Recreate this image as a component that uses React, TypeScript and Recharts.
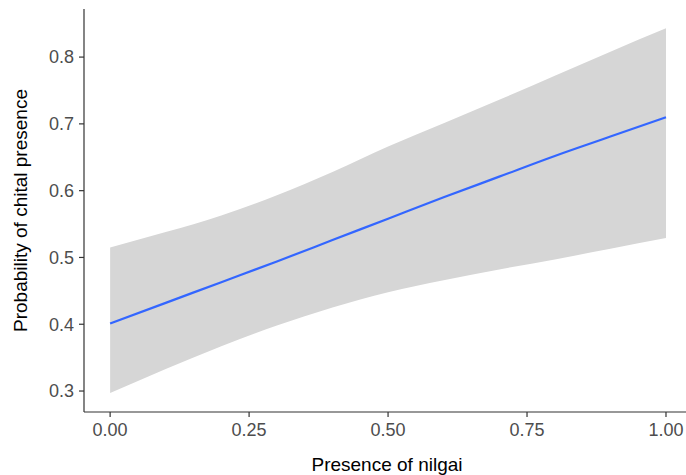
import React from "react";
import { ComposedChart, Area, Line, XAxis, YAxis } from "recharts";

const nilgai = [0, 0.1, 0.2, 0.3, 0.4, 0.5, 0.6, 0.7, 0.8, 0.9, 1.0];
const fitted = [0.401, 0.432, 0.463, 0.494, 0.526, 0.558, 0.59, 0.621, 0.652, 0.681, 0.71];
const lower = [0.297, 0.333, 0.367, 0.398, 0.425, 0.448, 0.466, 0.482, 0.497, 0.513, 0.529];
const upper = [0.515, 0.538, 0.563, 0.593, 0.628, 0.666, 0.701, 0.736, 0.772, 0.808, 0.843];

const xTicks = [0, 0.25, 0.5, 0.75, 1];
const yTicks = [0.3, 0.4, 0.5, 0.6, 0.7, 0.8];

const xTitle = "Presence of nilgai";
const yTitle = "Probability of chital presence";

const table = nilgai.map((x, i) => ({
  x,
  fit: fitted[i],
  band: [lower[i], upper[i]],
}));

const FONT = "'Liberation Sans', Arial, sans-serif";

export default function App() {
  return (
    <div style={{ position: "absolute", left: 0, top: 0, background: "#fff" }}>
      <ComposedChart
        width={686}
        height={475}
        data={table}
        margin={{ top: 9, right: 0, bottom: 0, left: 0 }}
      >
        <XAxis
          dataKey="x"
          type="number"
          domain={[-0.047, 1.036]}
          allowDataOverflow
          ticks={xTicks}
          tickFormatter={(v: number) => v.toFixed(2)}
          height={63}
          tickSize={5}
          tickMargin={6}
          stroke="#333333"
          axisLine={{ stroke: "#333333", strokeWidth: 1.2 }}
          tickLine={{ stroke: "#333333", strokeWidth: 1.2 }}
          tick={{ fill: "#4D4D4D", fontSize: 18, fontFamily: FONT }}
          label={{
            content: (p: any) => {
              const vb = p.viewBox || { x: 84, width: 602 };
              return (
                <text
                  x={vb.x + vb.width / 2 + 2}
                  y={471}
                  textAnchor="middle"
                  fontSize={19}
                  fontFamily={FONT}
                  fill="#000"
                >
                  {xTitle}
                </text>
              );
            },
          }}
        />
        <YAxis
          type="number"
          domain={[0.2686, 0.872]}
          allowDataOverflow
          ticks={yTicks}
          tickFormatter={(v: number) => v.toFixed(1)}
          width={84}
          tickSize={5}
          tickMargin={5}
          stroke="#333333"
          axisLine={{ stroke: "#333333", strokeWidth: 1.2 }}
          tickLine={{ stroke: "#333333", strokeWidth: 1.2 }}
          tick={{ fill: "#4D4D4D", fontSize: 18, fontFamily: FONT }}
          label={{
            content: (p: any) => {
              const vb = p.viewBox || { y: 9, height: 403 };
              const cy = vb.y + vb.height / 2;
              return (
                <text
                  x={27}
                  y={cy}
                  transform={`rotate(-90, 27, ${cy})`}
                  textAnchor="middle"
                  fontSize={19}
                  fontFamily={FONT}
                  fill="#000"
                >
                  {yTitle}
                </text>
              );
            },
          }}
        />
        <Area
          dataKey="band"
          type="monotone"
          stroke="none"
          fill="#D6D6D6"
          fillOpacity={1}
          isAnimationActive={false}
          activeDot={false}
        />
        <Line
          dataKey="fit"
          type="monotone"
          stroke="#3366FF"
          strokeWidth={2.2}
          dot={false}
          activeDot={false}
          isAnimationActive={false}
        />
      </ComposedChart>
    </div>
  );
}
